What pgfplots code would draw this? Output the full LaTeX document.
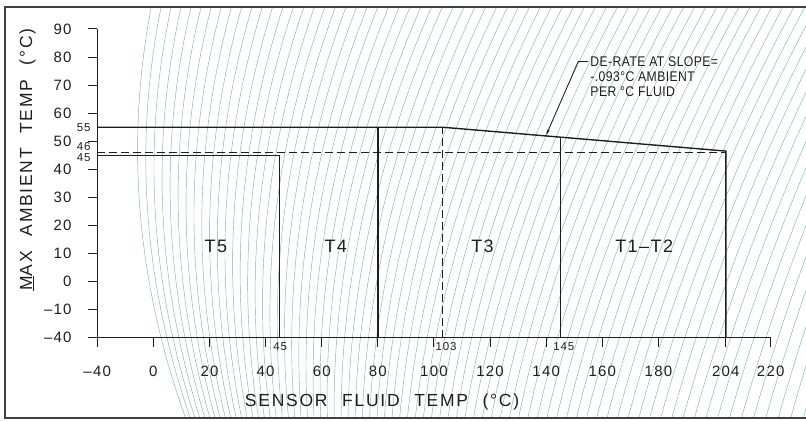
\documentclass[border=0pt]{standalone}
\usepackage{pgfplots}
\pgfplotsset{compat=1.18}
\usepackage{fontspec}
\setmainfont{Liberation Sans}
\newfontfamily\cad{Liberation Sans}[LetterSpace=8]
\newfontfamily\cadlab{Liberation Sans}[LetterSpace=10, WordSpace=2.2]
\newfontfamily\cadnote{Liberation Sans}[FakeStretch=0.87, LetterSpace=3]
\usetikzlibrary{arrows.meta}
\definecolor{ink}{RGB}{30,30,30}
\definecolor{scan}{RGB}{125,185,158}
\begin{document}
\begin{tikzpicture}
\useasboundingbox (0,0) rectangle (806pt,421pt);
% faint green scan pattern of the source image (decoration only)
\begin{scope}
\clip (5pt,3pt) rectangle (806pt,414pt);
\foreach \i in {0,...,82}{
  \pgfmathsetmacro{\xm}{140+7.5*\i+0.03*\i*\i}
  \pgfmathsetmacro{\yv}{150+1.2*(\xm-140)}
  \pgfmathsetmacro{\A}{6.67-0.006*(\xm-140)}
  \pgfmathsetmacro{\xa}{\xm+(\A*0.042)*\yv-(\A*0.0441)*100}
  \pgfmathsetmacro{\xb}{\xm+(\A*0.133141)*100-(\A*0.0422)*\yv}
  \pgfmathsetmacro{\dz}{-\A*(\yv/5000)}
  \pgfmathsetmacro{\qx}{\xa+\dz*210.5}
  \pgfmathsetmacro{\ca}{\xa+2/3*(\qx-\xa)}
  \pgfmathsetmacro{\cb}{\xb+2/3*(\qx-\xb)}
  \draw[scan, line width=0.45pt] (\xa pt,421pt) .. controls (\ca pt,280.67pt) and (\cb pt,140.33pt) .. (\xb pt,0pt);
}
\end{scope}
\draw[ink!85, line width=1.4pt] (812pt,414pt) -- (5pt,414pt) -- (5pt,3pt) -- (812pt,3pt);
\begin{axis}[
  at={(97.2pt,83.3pt)}, anchor=south west,
  scale only axis, width=673.5pt, height=308.7pt,
  xmin=-20, xmax=220, ymin=-20, ymax=90,
  axis lines=left, axis line style={-, ink, line width=1.1pt},
  clip=false,
  tick align=outside, major tick length=9pt,
  tick style={ink, line width=1.0pt},
  xtick={-20,0,20,40,60,80,100,120,140,160,180,204,220},
  xticklabels={–40,0,20,40,60,80,100,120,140,160,180,204,220},
  ytick={-20,-10,0,10,20,30,40,50,60,70,80,90},
  yticklabels={–40,–10,0,10,20,30,40,50,60,70,80,90},
  ticklabel style={font=\cad\fontsize{15}{18}\selectfont, text=ink, inner sep=0pt},
  xticklabel style={anchor=center, yshift=-25pt},
  yticklabel style={anchor=east, xshift=-16.5pt},
  xlabel={SENSOR FLUID TEMP (°C)},
  ylabel={\underline{M}AX AMBIENT TEMP (°C)},
  label style={font=\cadlab\fontsize{17.5}{20}\selectfont, text=ink},
  xlabel style={at={(axis description cs:0.423,0)}, anchor=center, yshift=-64pt},
  ylabel style={at={(axis description cs:-0.1035,0.577)}, anchor=center},
]
% x = -20 and y = -20 stand for the broken-axis value -40
\addplot[ink, line width=1.4pt, mark=none] coordinates {(-20,55) (103,55) (204,46.5) (204,-20)};
\addplot[ink, line width=1.4pt, mark=none] coordinates {(-20,45) (45,45) (45,-20)};
\addplot[ink, line width=1.4pt, mark=none] coordinates {(80,-20) (80,55)};
\addplot[ink, line width=1.4pt, mark=none] coordinates {(145,-20) (145,51.47)};
\addplot[ink, line width=1.2pt, mark=none, dash pattern=on 8pt off 4pt] coordinates {(103,-20) (103,55)};
\addplot[ink, line width=1.2pt, mark=none, dash pattern=on 8pt off 4pt] coordinates {(-20,46) (204,46)};

\node[anchor=east, inner sep=0pt, xshift=-6.5pt, font=\cad\fontsize{11.5}{12}\selectfont, text=ink] at (axis cs:-20,54.8) {55};
\node[anchor=east, inner sep=0pt, xshift=-6.5pt, font=\cad\fontsize{11.5}{12}\selectfont, text=ink] at (axis cs:-20,48.05) {46};
\node[anchor=east, inner sep=0pt, xshift=-6.5pt, font=\cad\fontsize{11.5}{12}\selectfont, text=ink] at (axis cs:-20,44.3) {45};
\node[anchor=center, inner sep=0pt, yshift=-9pt, font=\cad\fontsize{11.5}{12}\selectfont, text=ink] at (axis cs:45.2,-20) {45};
\node[anchor=center, inner sep=0pt, yshift=-9pt, font=\cad\fontsize{11.5}{12}\selectfont, text=ink] at (axis cs:104.3,-20) {103};
\node[anchor=center, inner sep=0pt, yshift=-9pt, font=\cad\fontsize{11.5}{12}\selectfont, text=ink] at (axis cs:146.3,-20) {145};

\node[font=\cad\fontsize{18}{20}\selectfont, text=ink] at (axis cs:22.3,12.7) {T5};
\node[font=\cad\fontsize{18}{20}\selectfont, text=ink] at (axis cs:65,12.7) {T4};
\node[font=\cad\fontsize{18}{20}\selectfont, text=ink] at (axis cs:117.3,12.7) {T3};
\node[font=\cad\fontsize{18}{20}\selectfont, text=ink] at (axis cs:174.9,12.7) {T1–T2};

\node[anchor=north west, inner sep=0pt, align=left, font=\cadnote\fontsize{14}{15}\selectfont, text=ink] at (axis cs:155.7,80.1) {DE-RATE AT SLOPE=\\-.093°C AMBIENT\\PER °C FLUID};
\draw[ink, line width=0.8pt, -{Stealth[length=6pt,width=3pt]}] (axis cs:155,78.4) -- (axis cs:151.4,78.4) -- (axis cs:140,52.2);
\end{axis}
\end{tikzpicture}
\end{document}
